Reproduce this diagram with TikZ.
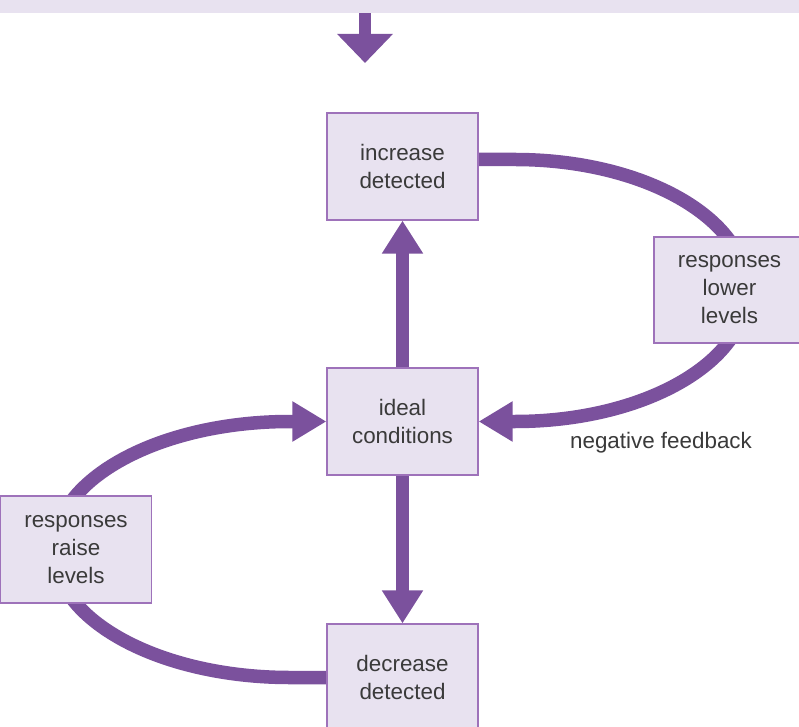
\documentclass[tikz,border=0pt]{standalone}
\usepackage{fontspec}
\setmainfont{Liberation Sans}
\usetikzlibrary{arrows.meta,backgrounds,calc}
\definecolor{arrowpurple}{HTML}{7B519D}
\definecolor{boxfill}{HTML}{E8E2F0}
\definecolor{boxline}{HTML}{9E72BA}
\definecolor{txt}{HTML}{3A3A3A}
\tikzset{
  stagebox/.style={rectangle, draw=boxline, fill=boxfill, line width=1.2pt,
    minimum width=151pt, minimum height=107pt, inner sep=0pt, align=center,
    text=txt, font=\fontsize{22.4}{28}\selectfont},
  bandbox/.style={rectangle, fill=boxfill, draw=none, inner sep=0pt},
  flow/.style={draw=arrowpurple, line width=13.5pt},
  tipA/.style={-{Triangle[length=34pt,width=38pt]}},
  tipV/.style={-{Triangle[length=33pt,width=39pt]}},
  tipTop/.style={-{Triangle[length=29pt,width=54pt]}},
  lbl/.style={text=txt, font=\fontsize{22.4}{28}\selectfont, inner sep=0pt}
}
\begin{document}
\begin{tikzpicture}[x=1pt,y=1pt]
\useasboundingbox (0,0) rectangle (799,726);
\clip (0,0) rectangle (799,726);
% top band (cut off)
\node[bandbox, minimum width=805pt, minimum height=20pt] (band) at (399.5,723.3) {};
\coordinate (topend) at (365,663);
% boxes
\node[stagebox] (inc) at (402.5,559.5) {increase\\detected};
\node[stagebox] (ideal) at (402.5,304.5) {ideal\\conditions};
\node[stagebox] (dec) at (402.5,48.5) {decrease\\detected};
\node[stagebox, minimum height=106pt] (lower) at (729.5,436) {responses\\lower\\levels};
\node[stagebox] (raise) at (76,176.5) {responses\\raise\\levels};
\node[lbl, anchor=base] (neg) at (661,278) {negative feedback};
\begin{scope}[on background layer]
  % top arrow
  \draw[flow, line width=12pt, tipTop] (band.south -| topend) -- (topend);
  % vertical arrows
  \draw[flow, tipV] (ideal.north) -- (inc.south);
  \draw[flow, tipV] (ideal.south) -- (dec.north);
  % right loop: increase -> responses lower levels -> ideal
  \draw[flow, tipA] ($(inc.east)+(0,7)$) -- (515,566.5)
     arc[start angle=90, end angle=-90, x radius=232, y radius=131] -- (ideal.east);
  % left loop: decrease -> responses raise levels -> ideal
  \draw[flow, tipA] (dec.west) -- (290,48.5)
     arc[start angle=270, end angle=90, x radius=236, y radius=128] -- (ideal.west);
\end{scope}
\end{tikzpicture}
\end{document}
